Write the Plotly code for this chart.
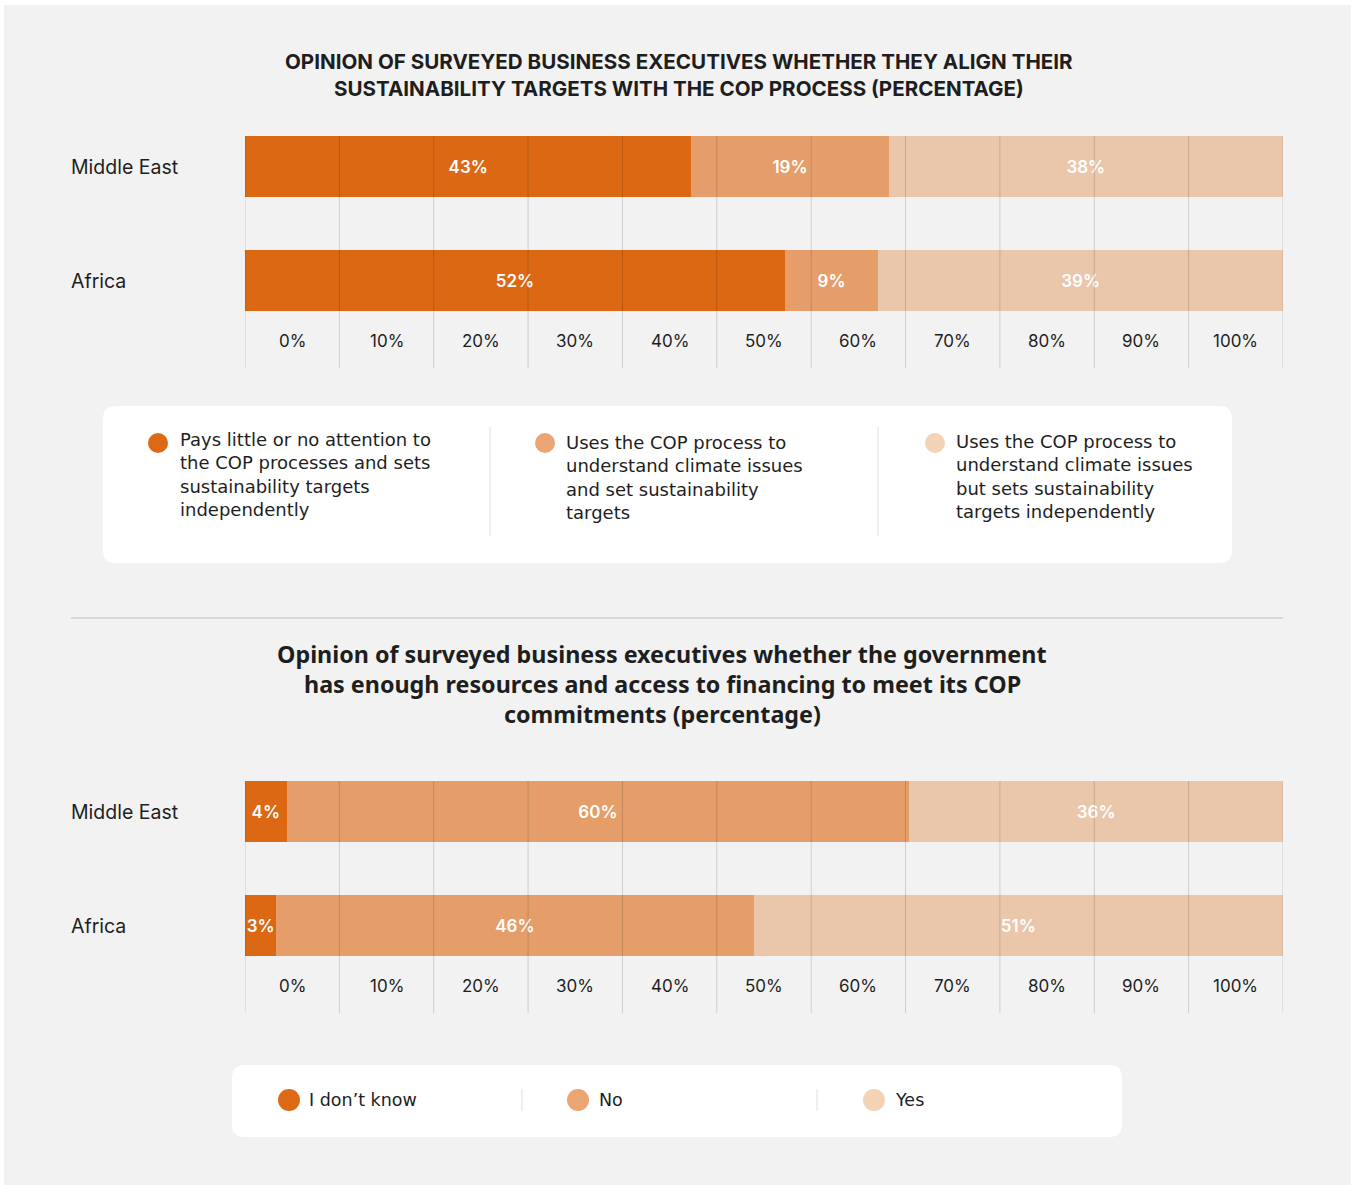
import plotly.graph_objects as go

# ---- data ----
regions = ["Middle East", "Africa"]

align_series = [
    "Pays little or no attention to the COP processes and sets sustainability targets independently",
    "Uses the COP process to understand climate issues and set sustainability targets",
    "Uses the COP process to understand climate issues but sets sustainability targets independently",
]
align_little = [43, 52]
align_uses = [19, 9]
align_independent = [38, 39]

finance_series = ["I don’t know", "No", "Yes"]
finance_dont_know = [4, 3]
finance_no = [60, 46]
finance_yes = [36, 51]

tick_labels = ["0%", "10%", "20%", "30%", "40%", "50%", "60%", "70%", "80%", "90%", "100%"]

# legend wording, broken into display lines
legend1_lines = [
    ["Pays little or no attention to", "the COP processes and sets",
     "sustainability targets", "independently"],
    ["Uses the COP process to", "understand climate issues",
     "and set sustainability", "targets"],
    ["Uses the COP process to", "understand climate issues",
     "but sets sustainability", "targets independently"],
]

# ---- styling ----
W, H = 1357, 1185
BAR_COLORS = ["#dc6813", "#e59e6a", "#eac7ab"]
DOT_COLORS = ["#de6914", "#eaa572", "#f4d2b6"]
BG = "#f2f2f2"
TXT = "#1e1e1e"
F_GEO = "Inter"
F_HUM = "Noto Sans"
F_LEG = "DejaVu Sans"


def px(x):
    return x / W


def py(y):
    return 1 - y / H


fig = go.Figure()

panels = [
    ("x", "y", [align_little, align_uses, align_independent], 136),
    ("x2", "y2", [finance_dont_know, finance_no, finance_yes], 781),
]

for xa, ya, series, _ in panels:
    for vals, col in zip(series, BAR_COLORS):
        fig.add_trace(go.Bar(
            x=vals, y=regions, orientation="h", xaxis=xa, yaxis=ya,
            marker=dict(color=col, line=dict(width=0)),
            texttemplate="%{x}%", textposition="inside", textangle=0,
            insidetextanchor="middle", constraintext="none",
            textfont=dict(family=F_GEO, size=17, color="white", weight=600),
            hoverinfo="skip", showlegend=False,
        ))

X0, X1 = 245, 1283
ROW_GAP = 114
BAR_H = 61

shapes = []
annotations = []

# background panel
shapes.append(dict(type="rect", xref="paper", yref="paper", layer="below",
                   x0=px(4), x1=px(1351), y0=py(1185), y1=py(5),
                   fillcolor=BG, line=dict(width=0)))

layout_axes = {}
for xa, ya, _, top in panels:
    bottom = top + 232
    first_center = top + BAR_H / 2
    r_top = -(BAR_H / 2) / ROW_GAP
    r_bot = 1 + (bottom - (first_center + ROW_GAP)) / ROW_GAP
    xkey = "xaxis" if xa == "x" else "xaxis2"
    ykey = "yaxis" if ya == "y" else "yaxis2"
    layout_axes[xkey] = dict(domain=[px(X0), px(X1)], range=[0, 100],
                             visible=False, fixedrange=True, anchor=ya)
    layout_axes[ykey] = dict(domain=[py(bottom), py(top)], type="category",
                             categoryorder="array", categoryarray=regions,
                             range=[r_bot, r_top], visible=False,
                             fixedrange=True, anchor=xa)
    ydom = ya + " domain"
    # column grid lines drawn over the bars
    n = len(tick_labels)
    for i in range(n + 1):
        xv = i * 100 / n
        shapes.append(dict(type="line", xref=xa, yref=ydom, layer="above",
                           x0=xv, x1=xv, y0=0, y1=1,
                           line=dict(color="rgba(0,0,0,0.15)", width=1)))
    # column labels
    label_y = 1 - 205 / 232
    for i, t in enumerate(tick_labels):
        annotations.append(dict(xref=xa, yref=ydom, x=(i + 0.5) * 100 / n,
                                y=label_y, text=t, showarrow=False,
                                xanchor="center", yanchor="middle",
                                font=dict(family=F_GEO, size=17, color=TXT)))
    # row labels
    for r in regions:
        annotations.append(dict(xref="paper", yref=ya, x=px(69), y=r, text=r,
                                showarrow=False, xanchor="left", yanchor="middle",
                                font=dict(family=F_GEO, size=19.5, color=TXT)))

# ---- titles ----
title1 = ["OPINION OF SURVEYED BUSINESS EXECUTIVES WHETHER THEY ALIGN THEIR",
          "SUSTAINABILITY TARGETS WITH THE COP PROCESS (PERCENTAGE)"]
for line, yc in zip(title1, [61, 88]):
    annotations.append(dict(xref="paper", yref="paper", x=px(678.5), y=py(yc),
                            text=f"<b>{line}</b>", showarrow=False,
                            xanchor="center", yanchor="middle",
                            font=dict(family=F_GEO, size=20.6, color=TXT)))

title2 = ["Opinion of surveyed business executives whether the government",
          "has enough resources and access to financing to meet its COP",
          "commitments (percentage)"]
for line, yc in zip(title2, [654, 684, 714]):
    annotations.append(dict(xref="paper", yref="paper", x=px(662), y=py(yc),
                            text=f"<b>{line}</b>", showarrow=False,
                            xanchor="center", yanchor="middle",
                            font=dict(family=F_HUM, size=23.3, color=TXT)))

# separator between the two charts
shapes.append(dict(type="line", xref="paper", yref="paper",
                   x0=px(71), x1=px(1283), y0=py(618), y1=py(618),
                   line=dict(color="#d9d9d9", width=2)))


def rounded_box(x0, y0, x1, y1, r):
    pts = (f"M {px(x0 + r)},{py(y0)} L {px(x1 - r)},{py(y0)} "
           f"Q {px(x1)},{py(y0)} {px(x1)},{py(y0 + r)} "
           f"L {px(x1)},{py(y1 - r)} Q {px(x1)},{py(y1)} {px(x1 - r)},{py(y1)} "
           f"L {px(x0 + r)},{py(y1)} Q {px(x0)},{py(y1)} {px(x0)},{py(y1 - r)} "
           f"L {px(x0)},{py(y0 + r)} Q {px(x0)},{py(y0)} {px(x0 + r)},{py(y0)} Z")
    return dict(type="path", xref="paper", yref="paper", path=pts, layer="below",
                fillcolor="white", line=dict(width=0))


def dot(cx, cy, r, color):
    return dict(type="circle", xref="paper", yref="paper", layer="above",
                x0=px(cx - r), x1=px(cx + r), y0=py(cy + r), y1=py(cy - r),
                fillcolor=color, line=dict(width=0))


def vline(x, y0, y1):
    return dict(type="line", xref="paper", yref="paper",
                x0=px(x), x1=px(x), y0=py(y0), y1=py(y1),
                line=dict(color="#dedede", width=1))


# ---- legend 1 ----
shapes.append(rounded_box(103, 406, 1232, 563, 13))
shapes.append(vline(490, 427, 536))
shapes.append(vline(878, 427, 536))
leg1_pos = [(158, 443, 178, 474.5), (545, 443, 564, 477.5), (935, 443, 954, 476.5)]
for lines, col, (dx, dy, tx, ty) in zip(legend1_lines, DOT_COLORS, leg1_pos):
    shapes.append(dot(dx, dy, 10, col))
    annotations.append(dict(xref="paper", yref="paper", x=px(tx), y=py(ty),
                            text="<br>".join(lines), showarrow=False,
                            align="left", xanchor="left", yanchor="middle",
                            font=dict(family=F_LEG, size=18, color=TXT)))

# ---- legend 2 ----
shapes.append(rounded_box(232, 1065, 1122, 1137, 13))
shapes.append(vline(522, 1089, 1111))
shapes.append(vline(817, 1089, 1111))
leg2_pos = [(289, 307), (578, 597), (874, 893)]
for name, col, (dx, tx) in zip(finance_series, DOT_COLORS, leg2_pos):
    shapes.append(dot(dx, 1100, 11, col))
    annotations.append(dict(xref="paper", yref="paper", x=px(tx), y=py(1100),
                            text=name, showarrow=False,
                            xanchor="left", yanchor="middle",
                            font=dict(family=F_LEG, size=17.5, color=TXT)))

fig.update_layout(
    width=W, height=H, autosize=False,
    margin=dict(l=0, r=0, t=0, b=0),
    paper_bgcolor="white", plot_bgcolor="rgba(0,0,0,0)",
    barmode="stack", bargap=1 - BAR_H / ROW_GAP,
    shapes=shapes, annotations=annotations,
    **layout_axes,
)

fig.write_html("out.html")
